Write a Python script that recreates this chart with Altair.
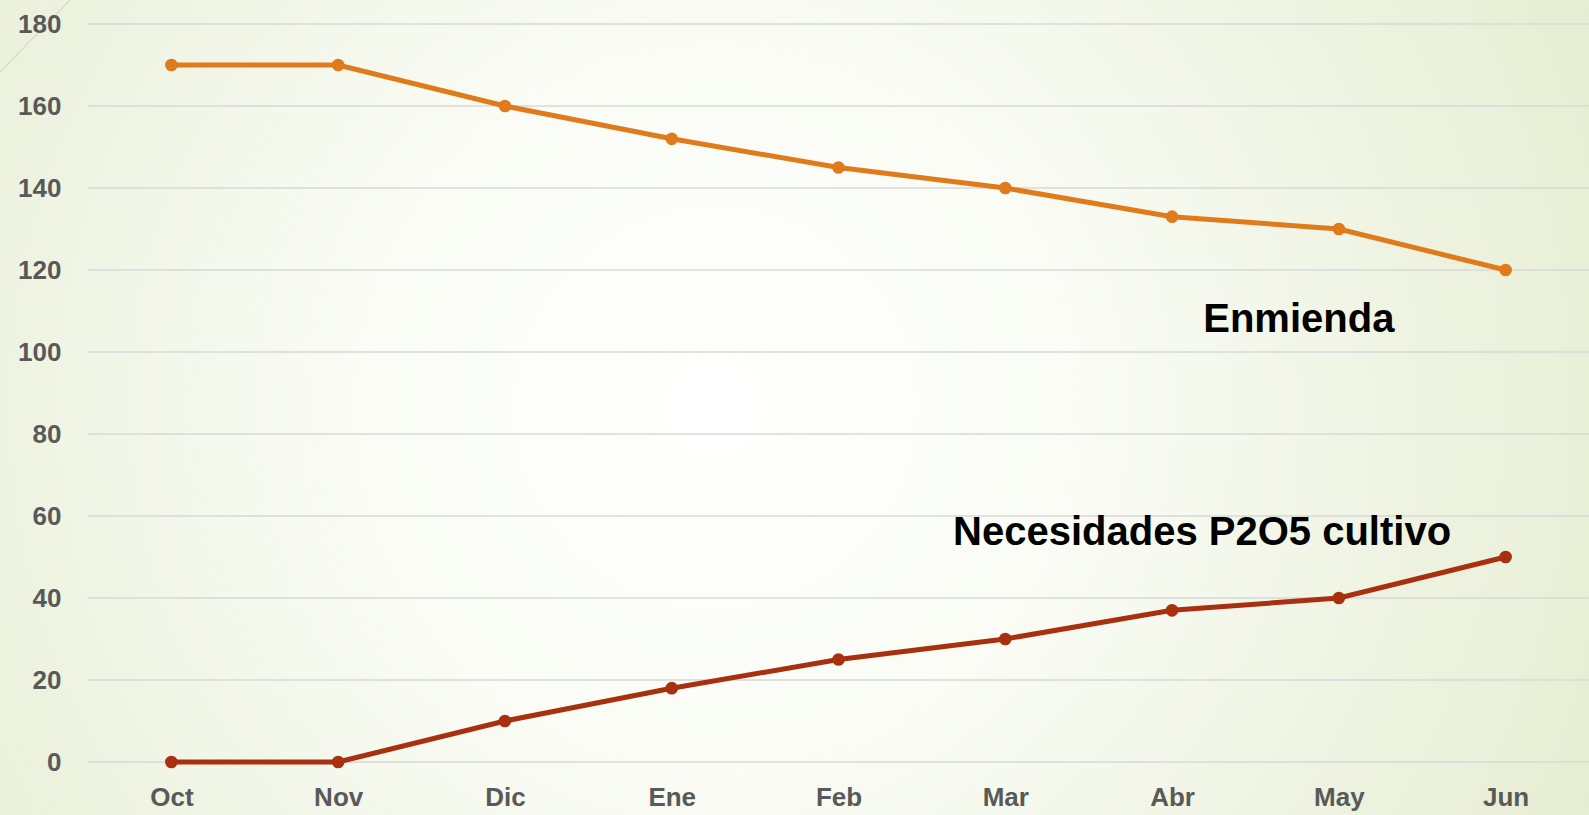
import altair as alt
import pandas as pd

months = ["Oct", "Nov", "Dic", "Ene", "Feb", "Mar", "Abr", "May", "Jun"]
enmienda = [170, 170, 160, 152, 145, 140, 133, 130, 120]
necesidades = [0, 0, 10, 18, 25, 30, 37, 40, 50]
series_names = ["Enmienda", "Necesidades P2O5 cultivo"]
series_colors = ["#E07B1C", "#A8300F"]
y_ticks = [0, 20, 40, 60, 80, 100, 120, 140, 160, 180]

# annotation labels: text, anchor month, anchor value
ann_text = ["Enmienda", "Necesidades P2O5 cultivo"]
ann_month = ["May", "Abr"]
ann_value = [105, 53]
ann_dx = [-40, 30]

W, H = 1501, 738
PAD = {"left": 88, "top": 24, "right": 0, "bottom": 53}
FONT = "Liberation Sans"

rows = []
for m, a, b in zip(months, enmienda, necesidades):
    rows.append({"month": m, "value": a, "series": series_names[0]})
    rows.append({"month": m, "value": b, "series": series_names[1]})
df = pd.DataFrame(rows)
grid_df = pd.DataFrame({"value": y_ticks})
ann_df = pd.DataFrame({"text": ann_text, "month": ann_month, "value": ann_value, "dx": ann_dx})

x_scale = alt.Scale(type="point", padding=0.5, domain=months)
y_scale = alt.Scale(domain=[0, 180], nice=False)

y_axis = alt.Axis(values=y_ticks, domain=False, ticks=False, grid=False, zindex=1,
                  labelFont=FONT, labelFontSize=26, labelFontWeight="bold",
                  labelColor="#595959", labelPadding=27)
x_axis = alt.Axis(labelAngle=0, domain=False, ticks=False, grid=False, zindex=1,
                  labelFont=FONT, labelFontSize=26, labelFontWeight="bold",
                  labelColor="#595959", labelPadding=22)

bg = alt.Chart(pd.DataFrame({"a": [0]})).mark_rect(
    fill=alt.RadialGradient(
        gradient="radial",
        x1=0.45, y1=0.5, r1=0.0,
        x2=0.45, y2=0.5, r2=0.75,
        stops=[
            alt.GradientStop(offset=0, color="#FFFFFF"),
            alt.GradientStop(offset=0.3, color="#FAFCF5"),
            alt.GradientStop(offset=0.6, color="#EEF3E1"),
            alt.GradientStop(offset=1, color="#DFE8C4"),
        ],
    ),
    stroke=None,
).encode(
    x=alt.value(-PAD["left"]), x2=alt.value(W),
    y=alt.value(-PAD["top"]), y2=alt.value(H + PAD["bottom"]),
)

deco = alt.Chart(pd.DataFrame({"a": [0]})).mark_rule(color="#C9CDBF", strokeWidth=1).encode(
    x=alt.value(-PAD["left"]), y=alt.value(72 - PAD["top"]),
    x2=alt.value(70 - PAD["left"]), y2=alt.value(-PAD["top"]),
)

grid = alt.Chart(grid_df).mark_rule(color="#D9D9D9", strokeWidth=1.5).encode(
    y=alt.Y("value:Q", scale=y_scale, axis=y_axis, title=None),
    x=alt.value(0), x2=alt.value(W),
)

lines = alt.Chart(df).mark_line(
    strokeWidth=5,
    point=alt.OverlayMarkDef(filled=True, size=160, opacity=1),
).encode(
    x=alt.X("month:N", sort=months, scale=x_scale, title=None, axis=x_axis),
    y=alt.Y("value:Q", scale=y_scale, title=None, axis=y_axis),
    color=alt.Color("series:N", scale=alt.Scale(domain=series_names, range=series_colors), legend=None),
    detail="series:N",
)

ann = alt.Chart(ann_df).mark_text(
    font=FONT, fontSize=40, fontWeight="bold", color="#000000",
    align="center", baseline="alphabetic",
).encode(
    x=alt.X("month:N", sort=months, scale=x_scale, title=None, axis=x_axis),
    y=alt.Y("value:Q", scale=y_scale, title=None, axis=y_axis),
    text="text:N",
    xOffset=alt.XOffset("dx:Q", scale=None),
)

chart = alt.layer(bg, deco, grid, lines, ann).properties(
    width=W, height=H,
    padding=PAD,
    autosize=alt.AutoSizeParams(type="none"),
    background="#E6EDD3",
).configure_view(stroke=None)

chart.save("out.html", embed_options={"renderer": "svg", "actions": False})
